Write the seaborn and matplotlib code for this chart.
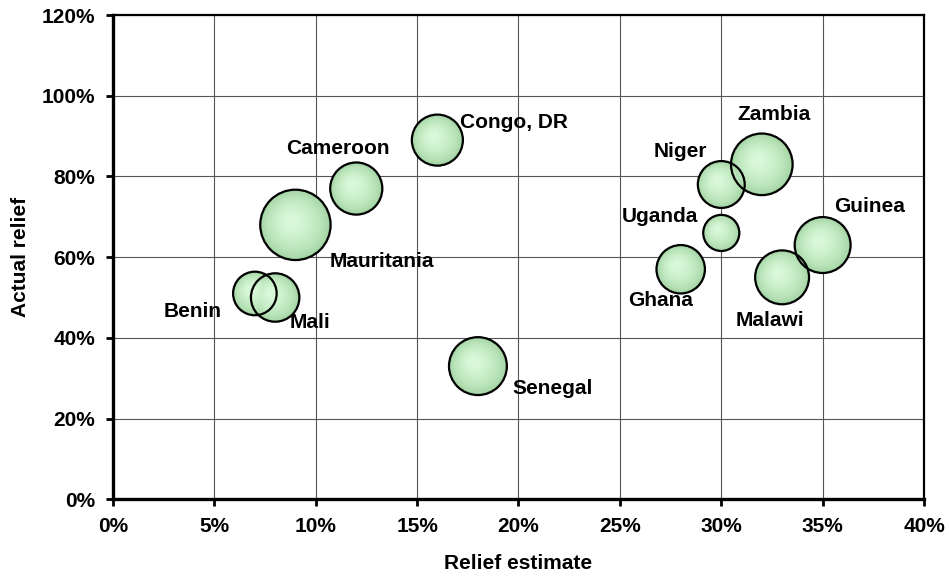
import numpy as np
import pandas as pd
import matplotlib
matplotlib.use('Agg')
import matplotlib.pyplot as plt
import seaborn as sns
from matplotlib.colors import to_rgb
from matplotlib.ticker import PercentFormatter
from matplotlib.transforms import offset_copy

# data
countries = ['Benin', 'Mali', 'Mauritania', 'Cameroon', 'Congo, DR', 'Senegal',
             'Ghana', 'Niger', 'Uganda', 'Zambia', 'Malawi', 'Guinea']
relief_estimate = [7, 8, 9, 12, 16, 18, 28, 30, 30, 32, 33, 35]
actual_relief = [51, 50, 68, 77, 89, 33, 57, 78, 66, 83, 55, 63]
bubble_size = [5.1, 6.3, 13.3, 7.3, 7.0, 9.0, 6.3, 5.9, 3.5, 10.2, 7.8, 8.4]

# label offsets in pixels (layout only)
label_offsets = {
    'Benin': (-62, -18), 'Mali': (35, -25), 'Mauritania': (86, -37),
    'Cameroon': (-18, 40), 'Congo, DR': (77, 18), 'Senegal': (75, -22),
    'Ghana': (-20, -31), 'Uganda': (-61, 16), 'Niger': (-41, 33),
    'Zambia': (12, 50), 'Malawi': (-12, -43), 'Guinea': (47, 39),
}

df = pd.DataFrame({'country': countries, 'x': relief_estimate,
                   'y': actual_relief, 'size': bubble_size})
area = df['size'] * 193

sns.set_style('white')
plt.rcParams['font.family'] = ['Liberation Sans', 'DejaVu Sans']
plt.rcParams['font.weight'] = 'bold'
plt.rcParams['text.color'] = 'black'
plt.rcParams['axes.labelcolor'] = 'black'
plt.rcParams['xtick.color'] = 'black'
plt.rcParams['ytick.color'] = 'black'

fig = plt.figure(figsize=(9.49, 5.78), dpi=100)
ax = fig.add_axes([0.119, 0.1362, 0.8547, 0.8378])

# pseudo radial gradient: stacked circles from darker rim to light centre,
# the centre drifting a little up-left
dark = np.array(to_rgb('#9fd29f'))
light = np.array(to_rgb('#d8f8d8'))
n_layers = 16
for i in range(n_layers):
    t = i / (n_layers - 1)
    scale = (1 - 0.8 * t) ** 2
    col = dark + (light - dark) * (t ** 0.6)
    tr = offset_copy(ax.transData, fig=fig, x=-4 * t, y=4 * t, units='dots')
    sns.scatterplot(data=df, x='x', y='y', s=area * scale, color=col,
                    edgecolor='none', linewidth=0, legend=False, ax=ax,
                    transform=tr, zorder=3 + i * 0.01)
sns.scatterplot(data=df, x='x', y='y', s=area, facecolor='none',
                edgecolor='black', linewidth=1.6, legend=False, ax=ax, zorder=4)

for c, xv, yv in zip(countries, relief_estimate, actual_relief):
    dx, dy = label_offsets[c]
    ax.annotate(c, (xv, yv), xytext=(dx, dy), textcoords='offset pixels',
                ha='center', va='center', fontsize=15, fontweight='bold', zorder=5)

ax.set_xlim(0, 40)
ax.set_ylim(0, 120)
ax.set_xticks(np.arange(0, 41, 5))
ax.set_yticks(np.arange(0, 121, 20))
ax.xaxis.set_major_formatter(PercentFormatter(decimals=0))
ax.yaxis.set_major_formatter(PercentFormatter(decimals=0))
ax.grid(True, color='#555555', linewidth=0.8, zorder=0)
ax.set_axisbelow(True)

for side in ['left', 'bottom']:
    ax.spines[side].set_linewidth(2.4)
for side in ['top', 'right']:
    ax.spines[side].set_linewidth(1.6)
for sp in ax.spines.values():
    sp.set_color('black')
    sp.set_visible(True)

ax.tick_params(axis='both', direction='out', length=5, width=2, color='black',
               labelsize=15, pad=8, left=True, bottom=True, labelcolor='black')
for lab in ax.get_xticklabels() + ax.get_yticklabels():
    lab.set_fontweight('bold')

ax.set_xlabel('Relief estimate', fontsize=15, fontweight='bold', labelpad=13)
ax.set_ylabel('Actual relief', fontsize=15, fontweight='bold', labelpad=8)

fig.savefig('out.png', dpi=100)
